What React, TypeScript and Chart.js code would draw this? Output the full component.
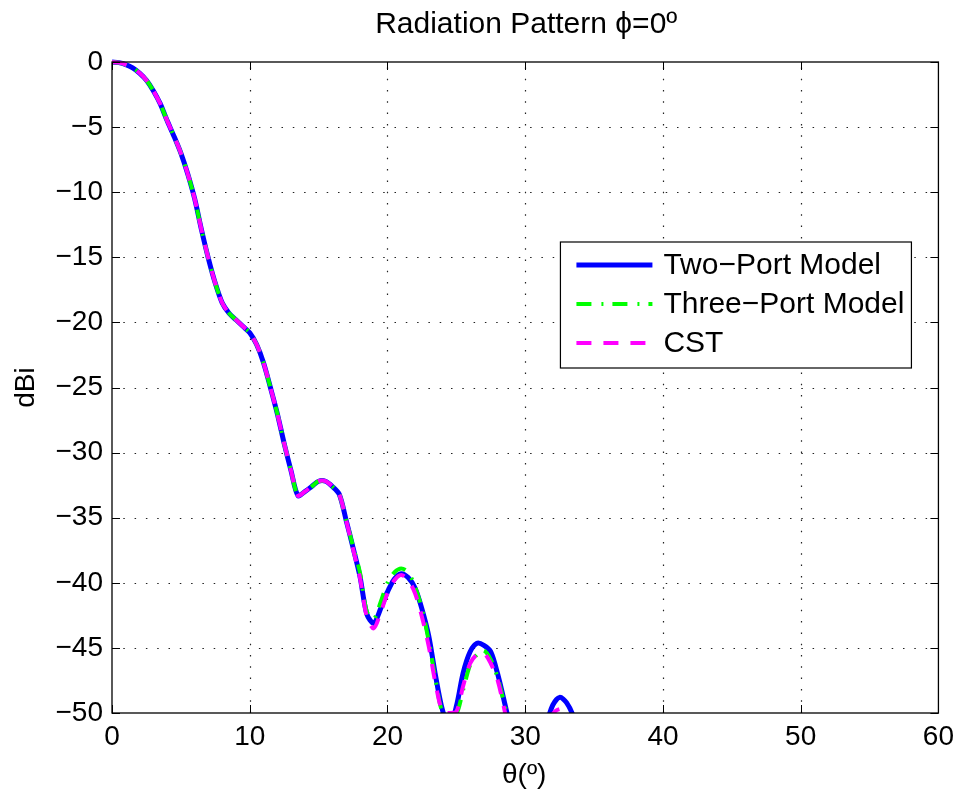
import React, { useEffect, useRef } from "react";
import { Chart, registerables } from "chart.js";

Chart.register(...registerables);

const TITLE = "Radiation Pattern ϕ=0º";
const X_TITLE = "θ(º)";
const Y_TITLE = "dBi";
const X_TICKS = [0, 10, 20, 30, 40, 50, 60];
const Y_TICKS = [0, -5, -10, -15, -20, -25, -30, -35, -40, -45, -50];

const theta = [
  0, 0.5, 1, 1.5, 2, 2.5, 3, 3.5, 4, 4.5, 5, 5.5, 6, 6.5, 7, 7.5, 8, 8.5, 9, 9.5,
  10, 10.5, 11, 11.5, 12, 12.5, 13, 13.5, 14, 14.5, 15, 15.5, 16, 16.5, 17, 17.5,
  18, 18.5, 19, 19.5, 20, 20.5, 21, 21.5, 22, 22.5, 23, 23.5, 24, 24.5, 25, 25.5,
  26, 26.5, 27, 27.5, 28, 28.5, 29, 29.5, 30, 30.5, 31, 31.5, 32, 32.5, 33, 33.5, 34,
];

const twoPort = [
  0, -0.05, -0.2, -0.45, -0.85, -1.4, -2.2, -3.2, -4.5, -5.7, -7.0, -8.6, -10.5, -12.9, -15.1, -17.0, -18.5, -19.3, -19.8, -20.3,
  -20.8, -21.7, -23.1, -25.0, -27.0, -29.3, -31.4, -33.3, -33.0, -32.6, -32.2, -32.2, -32.6, -33.2, -35.2, -37.3,
  -39.5, -42.4, -43.1, -42.0, -40.7, -39.7, -39.3, -39.6, -40.4, -42.0, -44.1, -47.2, -49.8, -51.0, -49.5, -46.9,
  -45.3, -44.65, -44.8, -45.3, -47.0, -49.2, -51.5, -54.0, -56.0, -55.0, -53.0, -51.0, -49.4, -48.8, -49.2, -50.3, -52.5,
];

const threePort = [
  0, -0.05, -0.2, -0.45, -0.85, -1.4, -2.2, -3.2, -4.5, -5.7, -7.0, -8.6, -10.5, -12.9, -15.1, -17.0, -18.5, -19.3, -19.8, -20.3,
  -20.8, -21.7, -23.1, -25.0, -27.0, -29.3, -31.4, -33.3, -33.0, -32.6, -32.2, -32.2, -32.6, -33.2, -35.2, -37.2,
  -39.2, -42.2, -42.8, -41.5, -40.0, -39.2, -38.9, -39.2, -40.3, -42.0, -44.5, -47.5, -50.0, -50.3, -50.1, -48.2,
  -46.3, -45.5, -45.2, -45.9, -47.3, -49.4, -52.0, -55.0, -57.0, -56.0, -54.0, -52.0, -50.6, -50.2, -50.5, -51.5, -53.5,
];

const cst = [
  0, -0.05, -0.2, -0.45, -0.85, -1.4, -2.2, -3.2, -4.5, -5.7, -7.0, -8.6, -10.5, -12.9, -15.1, -17.0, -18.5, -19.3, -19.8, -20.3,
  -20.8, -21.7, -23.1, -25.0, -27.0, -29.3, -31.4, -33.3, -33.0, -32.6, -32.2, -32.2, -32.6, -33.2, -35.2, -37.4,
  -39.6, -42.6, -43.5, -42.3, -40.8, -39.8, -39.4, -39.8, -40.8, -42.6, -44.9, -47.8, -49.9, -50.0, -49.9, -47.9,
  -46.2, -45.5, -45.4, -46.2, -47.5, -49.8, -52.3, -55.0, -57.0, -56.0, -54.0, -52.0, -50.1, -49.7, -49.8, -51.0, -53.0,
];

const SERIES_NAMES = ["Two\u2212Port Model", "Three\u2212Port Model", "CST"];

const FONT = "'Liberation Sans', Arial, Helvetica, sans-serif";

const fmt = (v: number) => (v < 0 ? "\u2212" + Math.abs(v) : String(v));

const framePlugin = {
  id: "matlabFrame",
  beforeDatasetsDraw(chart: any) {
    const { ctx, chartArea: ca, scales } = chart;
    ctx.save();
    ctx.strokeStyle = "#222";
    ctx.lineWidth = 1.2;
    ctx.setLineDash([1.5, 9.8]);
    for (const v of X_TICKS) {
      if (v === X_TICKS[0] || v === X_TICKS[X_TICKS.length - 1]) continue;
      const px = Math.round(scales.x.getPixelForValue(v)) + 0.5;
      ctx.beginPath();
      ctx.moveTo(px, ca.bottom);
      ctx.lineTo(px, ca.top);
      ctx.stroke();
    }
    for (const v of Y_TICKS) {
      if (v === 0 || v === -50) continue;
      const py = Math.round(scales.y.getPixelForValue(v)) + 0.5;
      ctx.beginPath();
      ctx.moveTo(ca.left, py);
      ctx.lineTo(ca.right, py);
      ctx.stroke();
    }
    ctx.restore();
  },
  afterDatasetsDraw(chart: any) {
    const { ctx, chartArea: ca, scales } = chart;
    ctx.save();
    ctx.setLineDash([]);
    ctx.strokeStyle = "#000";
    ctx.lineWidth = 1.3;
    ctx.strokeRect(ca.left, ca.top, ca.right - ca.left, ca.bottom - ca.top);
    ctx.lineWidth = 1;
    const tl = 8;
    for (const v of X_TICKS) {
      const px = Math.round(scales.x.getPixelForValue(v)) + 0.5;
      ctx.beginPath();
      ctx.moveTo(px, ca.bottom);
      ctx.lineTo(px, ca.bottom - tl);
      ctx.moveTo(px, ca.top);
      ctx.lineTo(px, ca.top + tl);
      ctx.stroke();
    }
    for (const v of Y_TICKS) {
      const py = Math.round(scales.y.getPixelForValue(v)) + 0.5;
      ctx.beginPath();
      ctx.moveTo(ca.left, py);
      ctx.lineTo(ca.left + tl, py);
      ctx.moveTo(ca.right, py);
      ctx.lineTo(ca.right - tl, py);
      ctx.stroke();
    }

    // legend
    const bx = ca.right - 378;
    const by = ca.top + 180;
    const bw = 351;
    const bh = 126;
    ctx.fillStyle = "#fff";
    ctx.fillRect(bx, by, bw, bh);
    ctx.strokeStyle = "#000";
    ctx.lineWidth = 1.2;
    ctx.strokeRect(bx, by, bw, bh);
    ctx.font = `30px ${FONT}`;
    ctx.textBaseline = "middle";
    ctx.textAlign = "left";
    chart.data.datasets.forEach((ds: any, i: number) => {
      const y = by + 23 + i * 39;
      ctx.save();
      ctx.strokeStyle = ds.borderColor;
      ctx.lineWidth = ds.borderWidth;
      ctx.setLineDash(ds.borderDash || []);
      ctx.lineCap = "butt";
      ctx.beginPath();
      ctx.moveTo(bx + 16, y);
      ctx.lineTo(bx + 92, y);
      ctx.stroke();
      ctx.restore();
      ctx.fillStyle = "#000";
      ctx.fillText(ds.label, bx + 103, y + 1);
    });
    ctx.restore();
  },
  afterDraw(chart: any) {
    const { ctx, chartArea: ca } = chart;
    const cx = (ca.left + ca.right) / 2;
    ctx.save();
    ctx.fillStyle = "#000";
    ctx.textAlign = "center";
    ctx.textBaseline = "alphabetic";
    ctx.font = `30px ${FONT}`;
    ctx.fillText(TITLE, cx + 1, 33);
    ctx.font = `28px ${FONT}`;
    ctx.fillText(X_TITLE, cx - 1, 783);
    ctx.translate(34, (ca.top + ca.bottom) / 2);
    ctx.rotate(-Math.PI / 2);
    ctx.fillText(Y_TITLE, 0, 0);
    ctx.restore();
  },
};

export default function App() {
  const ref = useRef<HTMLCanvasElement | null>(null);

  useEffect(() => {
    if (!ref.current) return;
    const mk = (arr: number[]) => theta.map((t, i) => ({ x: t, y: arr[i] }));
    const clip = { left: 0, top: 4, right: 0, bottom: 0 };
    const chart = new Chart(ref.current, {
      type: "line",
      data: {
        datasets: [
          {
            label: SERIES_NAMES[0],
            data: mk(twoPort),
            borderColor: "#0000ff",
            borderWidth: 5,
            pointRadius: 0,
            tension: 0.3,
            fill: false,
            clip,
            order: 3,
          },
          {
            label: SERIES_NAMES[1],
            data: mk(threePort),
            borderColor: "#00ff00",
            borderWidth: 4,
            borderDash: [15, 10, 2, 9],
            pointRadius: 0,
            tension: 0.3,
            fill: false,
            clip,
            order: 2,
          },
          {
            label: SERIES_NAMES[2],
            data: mk(cst),
            borderColor: "#ff00ff",
            borderWidth: 4,
            borderDash: [15, 12],
            pointRadius: 0,
            tension: 0.3,
            fill: false,
            clip,
            order: 1,
          },
        ],
      },
      options: {
        animation: false,
        responsive: false,
        devicePixelRatio: 1,
        layout: { padding: { top: 62, right: 21, left: 0, bottom: 0 } },
        plugins: {
          legend: { display: false },
          title: { display: false },
          tooltip: { enabled: false },
        },
        scales: {
          x: {
            type: "linear",
            min: 0,
            max: 60,
            afterFit: (s: any) => {
              s.height = 79;
            },
            afterBuildTicks: (s: any) => {
              s.ticks = X_TICKS.map((v) => ({ value: v }));
            },
            ticks: {
              color: "#000",
              font: { size: 28, family: FONT },
              padding: 7,
              maxRotation: 0,
              autoSkip: false,
              callback: (v: any) => fmt(Number(v)),
            },
            grid: { display: false, drawTicks: false },
            border: { display: false },
          },
          y: {
            type: "linear",
            min: -50,
            max: 0,
            afterFit: (s: any) => {
              s.width = 112;
            },
            afterBuildTicks: (s: any) => {
              s.ticks = Y_TICKS.map((v) => ({ value: v }));
            },
            ticks: {
              color: "#000",
              font: { size: 28, family: FONT },
              padding: 9,
              autoSkip: false,
              callback: (v: any) => fmt(Number(v)),
            },
            grid: { display: false, drawTicks: false },
            border: { display: false },
          },
        },
      },
      plugins: [framePlugin],
    } as any);
    return () => chart.destroy();
  }, []);

  return (
    <div style={{ position: "absolute", left: 0, top: 0, width: 961, height: 792, background: "#fff" }}>
      <canvas ref={ref} width={961} height={792} style={{ display: "block", width: 961, height: 792 }} />
    </div>
  );
}
